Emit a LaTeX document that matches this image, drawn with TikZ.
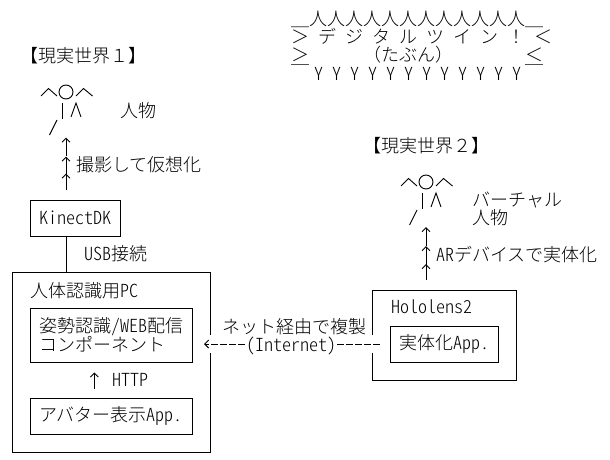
\documentclass[tikz,border=0pt]{standalone}
\usepackage{fontspec}
\setmainfont{Noto Sans CJK JP Light}
\newfontfamily\latn[RawFeature=+hwid]{Noto Sans CJK JP Light}
\usetikzlibrary{arrows.meta}
\newcommand{\hs}{\hspace{9pt}}
\newcommand{\stickman}[3]{%
  \begin{scope}[shift={(#2,#3)}]
    \node [head] (#1) at (66,92) {};
    \draw (41,96) -- (48.5,88.5) -- (57,96);
    \draw (76,96) -- (83.5,88.5) -- (92.5,96);
    \draw (62.5,103) -- (62.5,119);
    \draw (71,117) -- (76,103) -- (81,117);
    \draw (57,120) -- (49.5,135);
  \end{scope}}
\tikzset{
  txt/.style={anchor=base west,inner sep=0pt},
  box/.style={draw,inner sep=0pt,align=left},
  head/.style={draw,circle,inner sep=0pt,minimum size=14pt},
  up/.style={-{Straight Barb[length=4pt,width=8pt]}},
}
\begin{document}
\begin{tikzpicture}[x=1pt,y=-1pt,line width=0.9pt,
    font=\fontsize{18}{18}\selectfont]
  \useasboundingbox (0,0) rectangle (610,460);

  % banner
  \node [txt] (bna) at (291,26) {＿人人人人人人人人人人人人＿};
  \node [txt] (bnb) at (291,44) {＞\hs デ\hs ジ\hs タ\hs ル\hs ツ\hs イ\hs ン\hs ！\hs ＜};
  \node [txt] (bnc) at (291,61) {＞};
  \node [txt] (bnd) at (363,61) {（たぶん）};
  \node [txt] (bne) at (525,61) {＜};
  \node [txt] (bnf) at (291,81) {￣};
  \node [txt] (bng) at (314.5,81) {\latn Y Y Y Y Y Y Y Y Y Y Y Y};
  \node [txt] (bnh) at (525,81) {￣};

  % left side
  \node [txt] (worlda) at (20,63) {【現実世界１】};
  \stickman{mana}{0}{0}
  \node [txt] (namea) at (120,117) {人物};
  \node [box,minimum width=90pt,minimum height=36pt] (kinect) at (75.3,218) {\latn KinectDK};
  \node [txt] (shoot) at (76,171) {撮影して仮想化};
  \node [txt] (usb) at (84,260) {{\latn USB}接続};

  \node [box,minimum width=198pt,minimum height=179.5pt] (pc) at (111.7,362.3) {};
  \node [txt] (pcname) at (30,297) {人体認識用{\latn PC}};
  \node [box,minimum width=162.5pt,minimum height=54pt] (web) at (111.3,335)
    {姿勢認識{\latn /WEB}配信\\コンポーネント};
  \node [box,minimum width=162.5pt,minimum height=36pt] (avatar) at (111.3,416)
    {アバター表示{\latn App.}};
  \node [txt] (http) at (112,386) {\latn HTTP};

  \draw (kinect.south -| mana) -- (pc.north -| mana);
  \foreach \a/\b in {10/26,25/43,44/62}
    \draw [up] ([yshift=\a pt]kinect.north -| mana) -- ([yshift=\b pt]kinect.north -| mana);
  \draw [up,shorten <=9pt,shorten >=10pt] ([xshift=-17pt]avatar.north) -- ([xshift=-17pt]web.south);

  % right side
  \node [txt] (worldb) at (363,152) {【現実世界２】};
  \stickman{manb}{360}{90}
  \node [txt] (nameb) at (472,206) {バーチャル};
  \node [txt] (namec) at (472,224) {人物};
  \node [box,minimum width=144pt,minimum height=89.5pt] (holo) at (444,335.3) {};
  \node [txt] (holoname) at (391,313) {\latn Hololens2};
  \node [box,minimum width=108pt,minimum height=36pt] (app) at (444,344) {実体化{\latn App.}};
  \node [txt] (ar) at (436,261) {{\latn AR}デバイスで実体化};

  \foreach \a/\b in {10/26,25/44,44/63}
    \draw [up] ([yshift=\a pt]holo.north -| manb) -- ([yshift=\b pt]holo.north -| manb);

  % internet link
  \draw [white,line width=18pt,shorten <=8pt,shorten >=8pt] (app.west) -- (app.west -| web.east);
  \draw [up,dash pattern=on 7pt off 2pt,shorten <=10pt,shorten >=11pt] (app.west) -- (app.west -| web.east)
    node [midway,fill=white,inner sep=0pt,text height=14pt,text depth=0pt] (inet) {\latn (Internet)};
  \node [txt,text depth=2pt] (copy) at (222,333) {ネット経由で複製};
\end{tikzpicture}
\end{document}
